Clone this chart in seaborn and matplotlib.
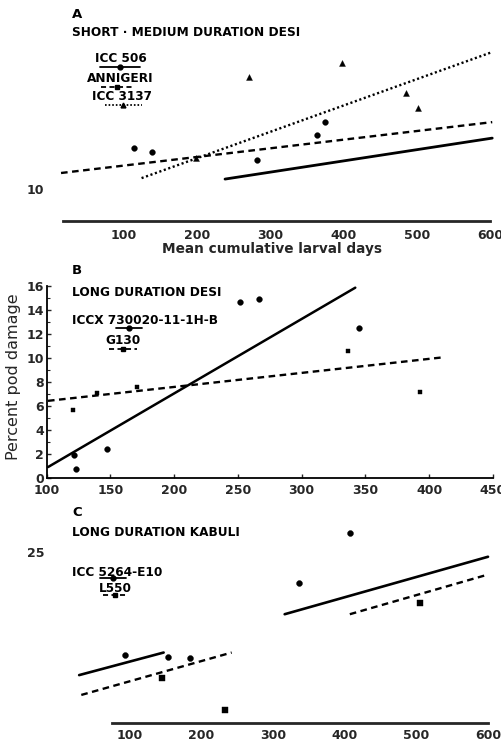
import matplotlib
matplotlib.use('Agg')
import matplotlib.pyplot as plt
from matplotlib.lines import Line2D
from matplotlib.ticker import MultipleLocator
import seaborn as sns

# ==========================================
# 0. settings
# ==========================================
sns.set_theme(style='white')
plt.rcParams['font.family'] = ['DejaVu Sans']

W, H = 502, 742          # output size in pixels (dpi=100)
INK = 'black'

# ==========================================
# 1. data
# ==========================================
# A: short - medium duration desi
A_ICC506_X = [114, 138, 282]
A_ICC506_Y = [22.8, 21.6, 19.1]
A_ANNIGERI_X = [363, 375]
A_ANNIGERI_Y = [26.9, 30.9]
A_ICC3137_X = [198, 271, 398, 485, 501]
A_ICC3137_Y = [19.7, 45.0, 49.4, 40.0, 35.3]
A_FIT_ICC506 = ([238, 603], [13.1, 25.9])
A_FIT_ANNIGERI = ([14, 603], [15.0, 30.9])
A_FIT_ICC3137 = ([124, 603], [13.4, 52.8])

# B: long duration desi
B_ICCX_X = [121.6, 123, 147, 251.6, 266.6, 345]
B_ICCX_Y = [1.93, 0.74, 2.43, 14.7, 14.95, 12.47]
B_G130_X = [120.5, 139.5, 171, 336, 393]
B_G130_Y = [5.66, 7.09, 7.6, 10.57, 7.17]
B_FIT_ICCX = ([101, 342], [0.91, 15.86])
B_FIT_G130 = ([101, 412], [6.43, 10.07])

# C: long duration kabuli
C_ICC5264_X = [93, 153, 184, 336, 407]
C_ICC5264_Y = [9.9, 9.6, 9.5, 20.5, 27.8]
C_L550_X = [145, 233, 505]
C_L550_Y = [6.6, 1.9, 17.5]
C_FIT_ICC5264 = [([29, 147], [7.0, 10.3]), ([316, 600], [15.9, 24.3])]
C_FIT_L550 = [([32, 242], [4.1, 10.3]), ([407, 600], [15.9, 21.7])]

SOLID = '-'
DASHED = (0, (2.8, 1.9))
DOTTED = (0, (0.9, 1.1))


# ==========================================
# 2. helpers
# ==========================================
def axes_at(fig, x0, x1, ytop, ybot):
    return fig.add_axes([x0 / W, 1 - ybot / H, (x1 - x0) / W, (ybot - ytop) / H], facecolor='none')


def ftext(fig, x, y, s, **kw):
    fig.text(x / W, 1 - y / H, s, color=INK, **kw)


def key_sample(fig, x0, x1, y, ls, marker, ms):
    yy = 1 - y / H
    fig.add_artist(Line2D([x0 / W, x1 / W], [yy, yy], color=INK, lw=1.3, linestyle=ls,
                          transform=fig.transFigure))
    fig.add_artist(Line2D([(x0 + x1) / 2 / W], [yy], marker=marker, ms=ms, color=INK,
                          linestyle='none', transform=fig.transFigure))


def fit_line(ax, seg, ls, lw=1.7):
    sns.lineplot(x=seg[0], y=seg[1], ax=ax, color=INK, linestyle=ls, lw=lw)


def dots(ax, xs, ys, marker, s):
    sns.scatterplot(x=xs, y=ys, ax=ax, marker=marker, s=s, color=INK, edgecolor=INK,
                    linewidth=0.3, clip_on=False, zorder=3)


TITLE = dict(fontsize=8.7, fontweight='bold', va='center', ha='left')
KEY = dict(fontsize=8.7, fontweight='bold', va='center')
PANEL = dict(fontsize=9.5, fontweight='bold', va='center', ha='left')

fig = plt.figure(figsize=(W / 100, H / 100), dpi=100)

# ==========================================
# 3. panel A
# ==========================================
axA = axes_at(fig, 58.1, 493.7, 41.8, 221)
fit_line(axA, A_FIT_ICC506, SOLID, 2.0)
fit_line(axA, A_FIT_ANNIGERI, DASHED)
fit_line(axA, A_FIT_ICC3137, DOTTED)
dots(axA, A_ICC506_X, A_ICC506_Y, 'o', 17)
dots(axA, A_ANNIGERI_X, A_ANNIGERI_Y, 'o', 17)
dots(axA, A_ICC3137_X, A_ICC3137_Y, '^', 18)
axA.set_xlim(10, 605)
axA.set_ylim(0, 56)
axA.set_xticks(range(100, 601, 100))
axA.set_yticks([10, 20, 30, 40, 50])
axA.set_yticklabels(['10', '', '', '', ''])
for side in ['left', 'top', 'right']:
    axA.spines[side].set_visible(False)
axA.spines['bottom'].set_linewidth(2.0)
axA.spines['bottom'].set_bounds(17, 600)
axA.tick_params(axis='x', length=0, pad=6, labelsize=9)
axA.tick_params(axis='y', length=2, width=0.6, color='0.75', pad=8, labelsize=9)
for t in axA.get_xticklabels() + axA.get_yticklabels():
    t.set_fontweight('bold')
axA.set_xlabel('Mean cumulative larval days', fontsize=9.8, fontweight='bold', va='top')
axA.xaxis.set_label_coords(0.491, -0.118)

ftext(fig, 72, 14, 'A', **PANEL)
ftext(fig, 72, 32, 'SHORT · MEDIUM DURATION DESI', **TITLE)
ftext(fig, 120.5, 58, 'ICC 506', ha='center', **KEY)
key_sample(fig, 100, 140, 67, SOLID, 'o', 3.5)
ftext(fig, 120.5, 79, 'ANNIGERI', ha='center', **KEY)
key_sample(fig, 101, 133, 87, DASHED, 's', 3.2)
ftext(fig, 122, 97, 'ICC 3137', ha='center', **KEY)
key_sample(fig, 105, 142, 105, DOTTED, '^', 3.5)

# ==========================================
# 4. panel B
# ==========================================
axB = axes_at(fig, 46.7, 493, 286, 478)
fit_line(axB, B_FIT_ICCX, SOLID, 1.8)
fit_line(axB, B_FIT_G130, DASHED)
dots(axB, B_ICCX_X, B_ICCX_Y, 'o', 17)
dots(axB, B_G130_X, B_G130_Y, 's', 12)
axB.set_xlim(100, 450)
axB.set_ylim(0, 16)
axB.set_xticks(range(100, 451, 50))
axB.set_yticks(range(0, 17, 2))
axB.yaxis.set_minor_locator(MultipleLocator(1))
for side in ['top', 'right']:
    axB.spines[side].set_visible(False)
for side in ['left', 'bottom']:
    axB.spines[side].set_linewidth(1.3)
    axB.spines[side].set_color(INK)
axB.tick_params(axis='both', which='major', direction='in', length=3, width=1, labelsize=9,
                left=True, bottom=True)
axB.tick_params(axis='y', which='minor', direction='in', length=2, width=0.8, left=True)
axB.tick_params(axis='x', pad=4)
axB.tick_params(axis='y', pad=2)
for t in axB.get_xticklabels() + axB.get_yticklabels():
    t.set_fontweight('bold')
axB.set_ylabel('Percent pod damage', fontsize=11.5)
axB.yaxis.set_label_coords(-0.057, 0.526)

ftext(fig, 72, 270, 'B', **PANEL)
ftext(fig, 72, 292, 'LONG DURATION DESI', **TITLE)
ftext(fig, 72, 320, 'ICCX 730020-11-1H-B', ha='left', **KEY)
key_sample(fig, 116, 142, 328, SOLID, 'o', 3.5)
ftext(fig, 123, 340, 'G130', ha='center', **KEY)
key_sample(fig, 109, 137, 349, DASHED, 's', 3.2)

# ==========================================
# 5. panel C
# ==========================================
axC = axes_at(fig, 72.7, 491.6, 524.6, 723)
for seg in C_FIT_ICC5264:
    fit_line(axC, seg, SOLID, 1.9)
for seg in C_FIT_L550:
    fit_line(axC, seg, DASHED)
dots(axC, C_ICC5264_X, C_ICC5264_Y, 'o', 18)
dots(axC, C_L550_X, C_L550_Y, 's', 14)
axC.set_xlim(20, 605)
axC.set_ylim(0, 29)
axC.set_xticks(range(100, 601, 100))
axC.set_yticks([25])
for side in ['left', 'top', 'right']:
    axC.spines[side].set_visible(False)
axC.spines['bottom'].set_linewidth(2.0)
axC.spines['bottom'].set_bounds(75, 600)
axC.tick_params(axis='x', length=0, pad=4, labelsize=9)
axC.tick_params(axis='y', length=0, pad=20, labelsize=9)
for t in axC.get_xticklabels() + axC.get_yticklabels():
    t.set_fontweight('bold')

ftext(fig, 72, 512, 'C', **PANEL)
ftext(fig, 72, 533, 'LONG DURATION KABULI', **TITLE)
ftext(fig, 72, 572, 'ICC 5264-E10', ha='left', **KEY)
key_sample(fig, 100, 126, 578, SOLID, 'o', 3.5)
ftext(fig, 115, 588, 'L550', ha='center', **KEY)
key_sample(fig, 103, 128, 595, DASHED, 's', 3.2)

fig.savefig('out.png', dpi=100)
